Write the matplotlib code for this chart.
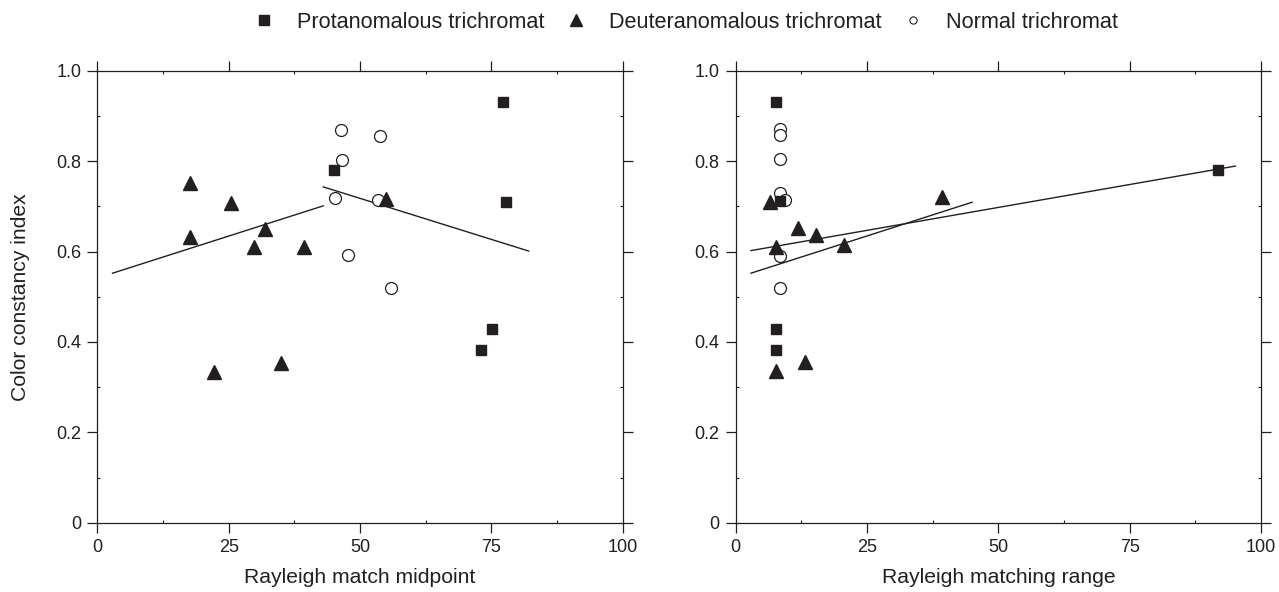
import matplotlib
matplotlib.use("Agg")
import matplotlib.pyplot as plt
from matplotlib.lines import Line2D
from matplotlib.ticker import MultipleLocator

plt.rcParams['font.family'] = ['Liberation Sans', 'DejaVu Sans']

# ---- Data: left panel (Rayleigh match midpoint) ----
prot_mid_x = [77.2, 45.0, 77.8, 75.2, 73.1]
prot_mid_y = [0.931, 0.781, 0.710, 0.429, 0.381]
deut_mid_x = [17.6, 25.4, 17.6, 32.0, 29.8, 39.3, 55.0, 22.3, 35.0]
deut_mid_y = [0.752, 0.707, 0.633, 0.650, 0.609, 0.611, 0.717, 0.334, 0.354]
norm_mid_x = [46.4, 53.9, 46.6, 45.2, 53.5, 47.7, 55.9]
norm_mid_y = [0.869, 0.856, 0.803, 0.718, 0.714, 0.592, 0.519]
fit_mid_a_x = [2.9, 43.0]
fit_mid_a_y = [0.552, 0.701]
fit_mid_b_x = [43.0, 82.1]
fit_mid_b_y = [0.743, 0.601]

# ---- Data: right panel (Rayleigh matching range) ----
prot_rng_x = [7.6, 8.5, 7.6, 7.6, 91.8]
prot_rng_y = [0.931, 0.712, 0.429, 0.381, 0.781]
deut_rng_x = [6.5, 11.8, 15.2, 7.6, 20.7, 39.3, 13.1, 7.6]
deut_rng_y = [0.710, 0.652, 0.636, 0.611, 0.614, 0.720, 0.356, 0.336]
norm_rng_x = [8.5, 8.5, 8.5, 8.5, 9.4, 8.5, 8.5]
norm_rng_y = [0.870, 0.857, 0.804, 0.730, 0.714, 0.591, 0.519]
fit_rng_a_x = [2.9, 95.1]
fit_rng_a_y = [0.602, 0.789]
fit_rng_b_x = [2.9, 45.0]
fit_rng_b_y = [0.552, 0.709]

x_ticks = [0, 25, 50, 75, 100]
x_ticklabels = ['0', '25', '50', '75', '100']
y_ticks = [0, 0.2, 0.4, 0.6, 0.8, 1.0]
y_ticklabels = ['0', '0.2', '0.4', '0.6', '0.8', '1.0']
legend_labels = ['Protanomalous trichromat', 'Deuteranomalous trichromat', 'Normal trichromat']

W, H = 1279, 592
fig = plt.figure(figsize=(W / 100, H / 100), dpi=100)

ax_w = 525.4 / W
ax_h = 452.0 / H
ax_b = (H - 522.7) / H
ax1 = fig.add_axes([97.3 / W, ax_b, ax_w, ax_h])
ax2 = fig.add_axes([735.7 / W, ax_b, ax_w, ax_h])

C = '#231f20'
sq = dict(marker='s', ms=7.5, color=C, ls='none', mec=C)
tr = dict(marker='^', ms=10, color=C, ls='none', mec=C)
ci = dict(marker='o', ms=8.6, mfc='white', mec=C, mew=0.9, ls='none')
lk = dict(color=C, lw=1.0)

LABEL_FS = 15.2
LEGEND_FS = 15.6
TICK_FS = 13

def style(ax, xlabel):
    ax.set_xlim(0, 100)
    ax.set_ylim(0, 1.0)
    ax.set_xticks(x_ticks)
    ax.set_xticklabels(x_ticklabels)
    ax.set_yticks(y_ticks)
    ax.set_yticklabels(y_ticklabels)
    ax.xaxis.set_minor_locator(MultipleLocator(12.5))
    ax.yaxis.set_minor_locator(MultipleLocator(0.1))
    ax.tick_params(which='major', direction='out', length=7, width=0.9,
                   top=True, right=True, labelsize=TICK_FS, pad=4.5, colors=C)
    ax.tick_params(which='minor', direction='in', length=2.5, width=0.8,
                   top=True, right=True, colors=C)
    for s in ax.spines.values():
        s.set_linewidth(0.9)
        s.set_color(C)
    ax.set_xlabel(xlabel, fontsize=LABEL_FS, color=C)
    ax.xaxis.set_label_coords(0.5, -0.0998)

# Left panel
ax1.plot(fit_mid_a_x, fit_mid_a_y, **lk)
ax1.plot(fit_mid_b_x, fit_mid_b_y, **lk)
ax1.plot(norm_mid_x, norm_mid_y, **ci)
ax1.plot(deut_mid_x, deut_mid_y, **tr)
ax1.plot(prot_mid_x, prot_mid_y, **sq)
style(ax1, 'Rayleigh match midpoint')
ax1.set_ylabel('Color constancy index', fontsize=LABEL_FS, color=C)
ax1.yaxis.set_label_coords(-0.129, 0.5)

# Right panel
ax2.plot(fit_rng_a_x, fit_rng_a_y, **lk)
ax2.plot(fit_rng_b_x, fit_rng_b_y, **lk)
ax2.plot(norm_rng_x, norm_rng_y, **ci)
ax2.plot(deut_rng_x, deut_rng_y, **tr)
ax2.plot(prot_rng_x, prot_rng_y, **sq)
style(ax2, 'Rayleigh matching range')

handles = [
    Line2D([], [], marker='s', ms=7.5, color=C, ls='none'),
    Line2D([], [], marker='^', ms=8.5, color=C, ls='none'),
    Line2D([], [], marker='o', ms=5.2, mfc='white', mec=C, mew=0.8, ls='none'),
]
fig.legend(handles, legend_labels, loc='center', ncol=3, frameon=False,
           bbox_to_anchor=(685.5 / W, 1 - 22 / H), fontsize=LEGEND_FS,
           handletextpad=1.02, columnspacing=0.98, handlelength=1.0,
           labelcolor=C)

fig.savefig('out.png', dpi=100)
